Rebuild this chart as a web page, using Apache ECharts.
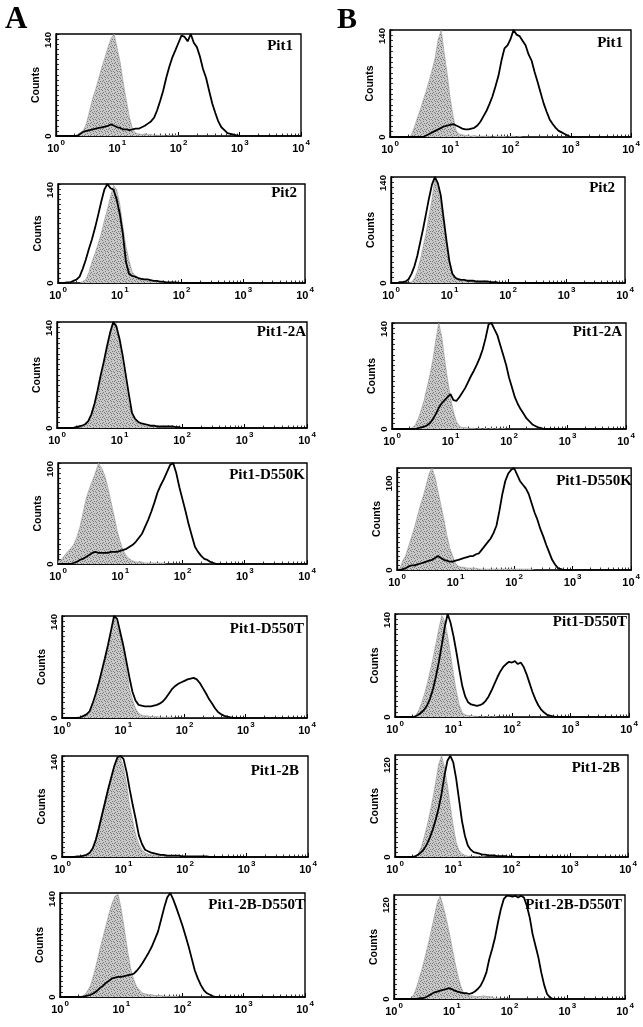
<!DOCTYPE html>
<html><head><meta charset="utf-8">
<script src="https://cdn.jsdelivr.net/npm/echarts@6/dist/echarts.min.js"></script>
<style>html,body{margin:0;padding:0;background:#fff;}#c{width:643px;height:1027px;}</style>
</head><body><div id="c"></div>
<script>
// Fluorescence channels (log-spaced bins, 10^0 .. 10^3)
const channels = [1,1.122,1.259,1.413,1.585,1.778,1.995,2.239,2.512,2.818,
 3.162,3.548,3.981,4.467,5.012,5.623,6.310,7.079,7.943,8.913,
 10,11.22,12.59,14.13,15.85,17.78,19.95,22.39,25.12,28.18,
 31.62,35.48,39.81,44.67,50.12,56.23,63.10,70.79,79.43,89.13,
 100,112.2,125.9,141.3,158.5,177.8,199.5,223.9,251.2,281.8,
 316.2,354.8,398.1,446.7,501.2,562.3,631.0,707.9,794.3,891.3,1000];

const columnLetters = ['A','B'];
const panelNames = ['Pit1','Pit2','Pit1-2A','Pit1-D550K','Pit1-D550T','Pit1-2B','Pit1-2B-D550T'];
const xTickExponents = ['0','1','2','3','4'];
const yTickA = [140,140,140,100,140,140,140];
const yTickB = [140,140,140,100,140,120,120];

// Column A: control (grey fill) and sample (black line) counts per channel
const ctrl_A1 = [0,0,0,0,0,0,0,2,5,8, 18,35,52,65,80,95,108,122,134,140, 120,100,72,48,25,10,4,3,2,3, 2,2,1,1,1,1,0,1,0,1, 0,0,0,0,0,0,0,0,0,0, 0,0,0,0,0,0,0,0,0,0,0];
const samp_A1 = [0,0,0,0,0,0,0,0,3,6, 7,8,9,10,11,12,13,14,16,14, 12,11,9,9,8,9,10,10,12,14, 17,20,25,35,48,62,80,95,108,118, 128,138,136,130,140,128,122,109,92,80, 62,45,32,20,12,8,4,3,2,1,0];
const ctrl_A2 = [0,0,0,0,0,0,0,0,2,5, 15,30,42,55,70,88,104,122,138,132, 112,80,52,32,16,10,7,5,4,3, 3,2,2,1,1,1,1,0,0,0, 0,0,0,0,0,0,0,0,0,0, 0,0,0,0,0,0,0,0,0,0,0];
const samp_A2 = [0,0,0,1,1,3,5,9,20,33, 48,62,78,96,115,132,140,134,132,118, 98,70,30,13,10,9,7,6,5,5, 4,3,3,2,2,1,1,1,1,0, 0,0,0,0,0,0,0,0,0,0, 0,0,0,0,0,0,0,0,0,0,0];
const ctrl_A3 = [0,0,0,0,0,0,0,0,2,4, 8,15,28,45,62,82,102,122,136,138, 112,82,56,32,18,10,6,4,3,2, 2,2,1,1,1,1,1,1,0,0, 0,0,0,0,0,0,0,0,0,0, 0,0,0,0,0,0,0,0,0,0,0];
const samp_A3 = [0,0,0,0,0,0,1,2,3,5, 9,18,32,50,70,88,108,126,140,134, 118,96,70,44,20,12,8,6,5,4, 3,3,2,2,2,2,2,2,1,1, 0,0,0,0,0,0,0,0,0,0, 0,0,0,0,0,0,0,0,0,0,0];
const ctrl_A4 = [3,4,8,12,15,19,26,36,50,64, 74,82,90,100,95,88,76,62,48,33, 22,13,8,5,3,2,2,2,1,1, 1,1,1,1,1,0,0,0,0,0, 0,0,0,0,0,0,0,0,0,0, 0,0,0,0,0,0,0,0,0,0,0];
const samp_A4 = [0,0,0,0,0,1,2,4,5,7, 9,11,12,11,11,11,11,12,12,12, 13,14,15,17,19,22,26,30,37,44, 52,61,71,78,84,91,98,100,90,76, 64,52,39,28,17,12,8,5,4,2, 1,0,0,0,0,0,0,0,0,0,0];
const ctrl_A5 = [0,0,0,0,0,0,1,2,4,6, 14,26,42,60,80,98,118,140,128,114, 92,68,40,25,13,7,4,3,3,2, 2,2,1,1,1,1,1,0,0,0, 0,0,0,0,0,0,0,0,0,0, 0,0,0,0,0,0,0,0,0,0,0];
const samp_A5 = [0,0,0,0,0,0,1,3,5,9, 20,33,48,65,82,100,120,140,136,118, 100,78,56,36,24,18,17,16,16,16, 17,18,20,23,28,34,40,44,47,49, 51,53,54,55,53,48,41,34,26,20, 13,8,5,3,2,1,0,0,0,0,0];
const ctrl_A6 = [0,0,0,0,0,0,0,1,3,6, 12,26,44,62,78,95,112,126,136,138, 124,100,72,50,30,18,10,6,4,3, 2,2,2,2,1,1,1,1,1,1, 1,0,0,0,0,0,0,0,0,0, 0,0,0,0,0,0,0,0,0,0,0];
const samp_A6 = [0,0,0,0,0,1,1,2,3,6, 12,24,40,58,76,94,110,126,138,140, 136,118,94,72,52,30,18,10,8,6, 5,4,3,3,2,2,2,2,2,1, 1,1,1,1,1,1,1,1,0,0, 0,0,0,0,0,0,0,0,0,0,0];
const ctrl_A7 = [0,0,0,0,0,0,0,1,3,8, 16,30,46,64,80,96,112,126,136,138, 118,92,64,40,24,14,9,5,4,3, 3,2,2,2,1,1,1,1,1,0, 0,0,0,0,0,0,0,0,0,0, 0,0,0,0,0,0,0,0,0,0,0];
const samp_A7 = [0,0,0,0,0,0,0,0,1,2, 3,5,8,12,15,19,22,25,26,27, 27,28,29,30,31,35,40,46,53,60, 68,78,88,104,120,134,140,131,120,108, 96,82,68,52,36,25,16,9,5,3, 1,0,0,0,0,0,0,0,0,0,0];

// Column B
const ctrl_B1 = [0,0,0,0,0,0,0,2,12,24, 35,48,60,74,88,104,128,140,110,82, 50,26,8,4,3,2,2,1,2,1, 1,1,1,1,0,1,1,1,1,0, 1,1,0,1,0,0,0,0,0,0, 0,0,0,0,0,0,0,0,0,0,0];
const samp_B1 = [0,0,0,0,0,0,0,0,0,0, 0,0,2,4,6,8,10,12,14,15, 16,17,15,13,11,10,10,11,12,15, 20,27,34,43,53,66,80,100,116,120, 128,140,134,132,126,120,108,100,85,72, 58,44,33,23,17,12,8,6,4,2,0];
const ctrl_B2 = [0,0,0,0,0,0,0,1,6,15, 30,48,66,88,110,138,125,105,80,50, 25,12,6,4,3,2,2,2,1,1, 1,1,1,1,1,0,0,0,0,0, 0,0,0,0,0,0,0,0,0,0, 0,0,0,0,0,0,0,0,0,0,0];
const samp_B2 = [0,0,0,1,1,2,5,12,22,36, 54,72,92,112,130,140,132,116,85,55, 28,12,7,5,4,4,3,3,3,2, 2,2,2,2,1,1,1,0,0,0, 0,0,0,0,0,0,0,0,0,0, 0,0,0,0,0,0,0,0,0,0,0];
const ctrl_B3 = [0,0,0,0,0,0,0,2,6,14, 25,38,55,72,92,118,140,122,92,65, 42,23,10,4,2,2,1,1,1,0, 1,0,1,0,1,0,1,0,1,0, 0,0,0,0,0,0,0,0,0,0, 0,0,0,0,0,0,0,0,0,0,0];
const samp_B3 = [0,0,0,0,0,0,0,0,0,1, 2,3,5,8,13,20,28,34,38,42, 46,38,37,42,48,54,62,70,77,85, 94,105,120,138,140,132,124,111,98,85, 68,55,42,33,26,20,14,10,6,4, 2,1,0,0,0,0,0,0,0,0,0];
const ctrl_B4 = [0,2,10,16,26,36,46,58,70,80, 92,104,110,100,85,70,55,38,24,15, 7,4,3,3,2,2,2,2,1,1, 1,1,1,1,1,1,1,1,1,1, 1,1,1,1,1,1,1,0,0,0, 0,0,0,0,0,0,0,0,0,0,0];
const samp_B4 = [0,0,1,2,4,5,5,6,7,8, 9,10,11,13,15,13,11,10,9,9, 10,11,12,13,14,15,15,17,18,22, 26,30,34,40,48,64,82,96,104,108, 110,103,96,92,88,82,72,62,54,44, 36,27,19,11,6,2,1,0,0,0,0];
const ctrl_B5 = [0,0,0,0,0,0,0,2,8,18, 30,45,62,80,100,120,138,130,110,85, 58,34,16,6,3,2,2,1,1,0, 1,0,1,0,1,0,0,0,0,0, 0,0,0,0,0,0,0,0,0,0, 0,0,0,0,0,0,0,0,0,0,0];
const samp_B5 = [0,0,0,0,0,0,0,1,3,6, 10,16,25,38,55,75,98,122,140,128, 110,88,64,42,28,20,17,16,15,16, 18,22,28,36,45,54,62,68,72,75, 74,76,72,74,68,58,46,34,24,16, 10,6,3,2,1,0,0,0,0,0,0];
const ctrl_B6 = [0,0,0,0,0,0,0,0,4,12, 24,38,54,72,92,114,124,110,88,62, 38,18,8,4,2,1,1,0,1,0, 1,0,0,0,0,0,0,0,0,0, 0,0,0,0,0,0,0,0,0,0, 0,0,0,0,0,0,0,0,0,0,0];
const samp_B6 = [0,0,0,0,0,0,0,1,3,6, 10,16,24,34,46,60,78,100,118,124, 116,96,70,44,26,14,9,6,5,4, 3,3,2,2,2,1,1,1,1,0, 1,0,0,0,0,0,0,0,0,0, 0,0,0,0,0,0,0,0,0,0,0];
const ctrl_B7 = [0,0,0,0,0,0,1,6,16,28, 40,54,68,84,100,116,124,112,98,82, 64,46,30,17,8,5,4,4,3,3, 3,4,3,3,2,1,1,0,0,0, 0,0,0,0,0,0,0,0,0,0, 0,0,0,0,0,0,0,0,0,0,0];
const samp_B7 = [0,0,0,0,0,0,0,0,0,1, 1,2,4,6,8,9,10,11,12,13, 12,10,9,8,7,7,6,7,9,12, 16,23,32,48,60,74,92,108,120,124, 124,123,124,122,124,122,112,98,78,64, 50,32,17,6,2,0,0,0,0,0,0];

const dataA = [[ctrl_A1,samp_A1],[ctrl_A2,samp_A2],[ctrl_A3,samp_A3],[ctrl_A4,samp_A4],[ctrl_A5,samp_A5],[ctrl_A6,samp_A6],[ctrl_A7,samp_A7]];
const dataB = [[ctrl_B1,samp_B1],[ctrl_B2,samp_B2],[ctrl_B3,samp_B3],[ctrl_B4,samp_B4],[ctrl_B5,samp_B5],[ctrl_B6,samp_B6],[ctrl_B7,samp_B7]];

// Layout (pixels): [left, top, width, height]
const gridsA = [[56,34,245,102],[58,184,247,99],[57,322,250,106],[58,463,249,101],[62,616,245,102],[62,756,246,101],[60,893,245,104]];
const gridsB = [[390,30,241,107],[391,177,234,106],[392,323,234,106],[397,468,236,102],[395,614,234,103],[395,755,233,102],[394,895,231,104]];
const labelOffA = [[8,12],[8,9],[1,10],[2,12],[3,13],[9,15],[0,12]];
const labelOffB = [[8,13],[10,11],[4,9],[1,13],[2,8],[8,13],[3,10]];
const yMaxA = [140,140,140,100,140,140,140];
const yMaxB = [140,140,140,110,140,125,125];

const SANS = 'Liberation Sans, Arial, sans-serif';
const SERIF = 'Liberation Serif, Times New Roman, serif';

// stipple texture for the control histograms (fixed pattern)
const tex = document.createElement('canvas'); tex.width = 6; tex.height = 6;
(function(){ const c = tex.getContext('2d'); c.fillStyle = '#c8c8c8'; c.fillRect(0,0,6,6);
  c.fillStyle = '#7c7c7c';
  [[0,0],[3,1],[1,2],[4,3],[2,4],[5,5],[0,3],[3,5]].forEach(q => c.fillRect(q[0],q[1],1,1)); })();

const chart = echarts.init(document.getElementById('c'), null, {renderer:'canvas'});
const grid=[], xAxis=[], yAxis=[], series=[], graphic=[];
const minorLog=[]; for (let d=0; d<4; d++) for (let m=2; m<10; m++) minorLog.push(d+Math.log10(m));

const cols = [
 {data:dataA, grids:gridsA, lab:labelOffA, ymax:yMaxA, ytick:yTickA},
 {data:dataB, grids:gridsB, lab:labelOffB, ymax:yMaxB, ytick:yTickB}
];
let p = 0;
cols.forEach(col => {
  col.grids.forEach((g, i) => {
    grid.push({left:g[0], top:g[1], width:g[2], height:g[3], show:true, borderColor:'#000', borderWidth:1.4, backgroundColor:'#fff'});
    xAxis.push({type:'log', logBase:10, gridIndex:p, min:1, max:10000, position:'bottom',
      axisLine:{show:true, lineStyle:{color:'#000', width:1.6}},
      axisTick:{show:true, inside:true, length:4, lineStyle:{color:'#000', width:1}},
      splitLine:{show:false},
      axisLabel:{show:true, margin:3, showMinLabel:true, showMaxLabel:true, color:'#000',
        formatter: v => '{b|10}{s|' + xTickExponents[Math.round(Math.log10(v))] + '}',
        rich:{ b:{fontSize:11, fontWeight:'bold', fontFamily:SANS, color:'#000', lineHeight:15, verticalAlign:'bottom'},
               s:{fontSize:8, fontWeight:'bold', fontFamily:SANS, color:'#000', lineHeight:9, verticalAlign:'top', padding:[0,0,0,1]} }}
    });
    xAxis.push({type:'value', gridIndex:p, min:0, max:4, position:'bottom',
      axisLine:{show:false}, axisLabel:{show:false}, splitLine:{show:false},
      axisTick:{show:true, inside:true, length:2.5, customValues:minorLog, lineStyle:{color:'#000', width:0.8}}});
    const tick = col.ytick[i], ymax = col.ymax[i];
    const yt=[]; const st=tick/20; for (let v=0; v<=ymax+1e-9; v+=st) yt.push(+v.toFixed(3));
    yAxis.push({type:'value', gridIndex:p, min:0, max:ymax,
      name:'Counts', nameLocation:'middle', nameRotate:90, nameGap:7,
      nameTextStyle:{fontSize:10.5, fontWeight:'bold', fontFamily:SANS, color:'#000'},
      axisLine:{show:true, lineStyle:{color:'#000', width:1.3}},
      axisTick:{show:true, inside:true, length:3, customValues:yt, lineStyle:{color:'#000', width:0.8}},
      splitLine:{show:false},
      axisLabel:{show:true, customValues:[0, tick], rotate:90, margin:3, color:'#000',
        formatter: v => v === 0 ? '{z|0}' : '{t|' + v + '}',
        rich:{ t:{fontSize:9.5, fontWeight:'bold', fontFamily:SANS, color:'#000', padding:[0,12,0,0]},
               z:{fontSize:9.5, fontWeight:'bold', fontFamily:SANS, color:'#000'} }}
    });
    const [ctrl, samp] = col.data[i];
    series.push({type:'line', xAxisIndex:2*p, yAxisIndex:p, data:channels.map((x,k)=>[x, ctrl[k]]),
      symbol:'none', silent:true, z:2,
      lineStyle:{color:'#9a9a9a', width:0.6}, areaStyle:{color:{image:tex, repeat:'repeat'}, opacity:1}});
    series.push({type:'line', xAxisIndex:2*p, yAxisIndex:p, data:channels.map((x,k)=>[x, samp[k]]),
      symbol:'none', silent:true, z:3,
      lineStyle:{color:'#000', width:1.8}});
    graphic.push({type:'text', z:100,
      style:{x:g[0]+g[2]-col.lab[i][0], y:g[1]+col.lab[i][1], text:panelNames[i],
        font:'bold 15px ' + SERIF, fill:'#000', align:'right', verticalAlign:'middle', textAlign:'right', textVerticalAlign:'middle'}});
    p++;
  });
});
graphic.push({type:'text', style:{x:5, y:20, text:columnLetters[0], font:'bold 31px ' + SERIF, fill:'#000', align:'left', verticalAlign:'middle', textAlign:'left', textVerticalAlign:'middle'}});
graphic.push({type:'text', style:{x:337, y:20, text:columnLetters[1], font:'bold 30px ' + SERIF, fill:'#000', align:'left', verticalAlign:'middle', textAlign:'left', textVerticalAlign:'middle'}});

chart.setOption({animation:false, backgroundColor:'#fff', grid, xAxis, yAxis, series, graphic});
</script></body></html>
